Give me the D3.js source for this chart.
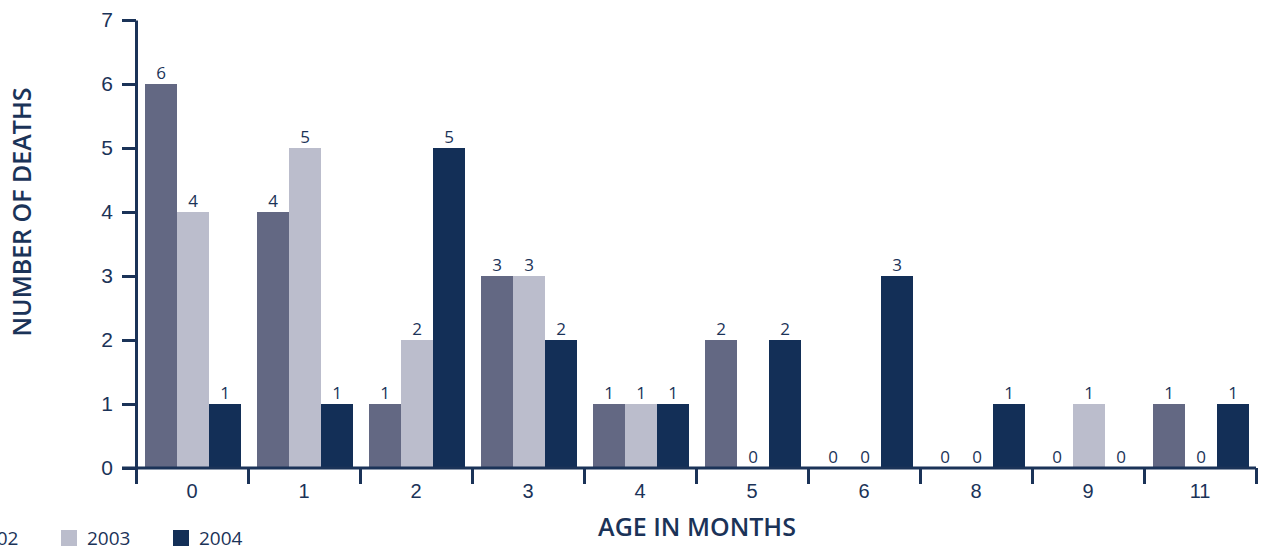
<!DOCTYPE html>
<html>
<head>
<meta charset="utf-8">
<script src="https://cdn.jsdelivr.net/npm/d3@7"></script>
<style>
  body { margin: 0; background: #fff; }
  svg { display: block; font-family: "Open Sans", sans-serif; }
  .axis path, .axis line { stroke: #1b3358; stroke-width: 3; }
  .axis text { fill: #1b3358; font-size: 20px; }
  .label { fill: #1b3358; font-weight: 600; font-size: 25px; }
  .val { fill: #1b3358; font-size: 17px; }
</style>
</head>
<body>
<div id="chart"></div>
<script>
// ages in months
const ages = ['0', '1', '2', '3', '4', '5', '6', '8', '9', '11'];
const years = ['2002', '2003', '2004'];
const deaths2002 = [6, 4, 1, 3, 1, 2, 0, 0, 0, 1];
const deaths2003 = [4, 5, 2, 3, 1, 0, 0, 0, 1, 0];
const deaths2004 = [1, 1, 5, 2, 1, 2, 3, 1, 0, 1];
const yTicks = [0, 1, 2, 3, 4, 5, 6, 7];
const colors = ['#636883', '#bbbdcc', '#132f57'];

const w = 1262;
const h = 548;
const padLeft = 136, padRight = 1256, padTop = 20, padBottom = 468;

const series = [deaths2002, deaths2003, deaths2004];
const data = [];
ages.forEach((a, i) => {
  years.forEach((y, j) => data.push({ age: a, year: y, value: series[j][i] }));
});

const xScale = d3.scaleBand().domain(ages).range([padLeft, padRight]);
const xInner = d3.scaleBand().domain(years).range([1, xScale.bandwidth() + 1]).paddingOuter(0.25);
const yScale = d3.scaleLinear().domain([0, 7]).range([padBottom, padTop]);
const color = d3.scaleOrdinal().domain(years).range(colors);

const svg = d3.select('#chart')
  .append('svg')
  .attr('width', w)
  .attr('height', h);

// bars
svg.selectAll('rect.bar')
  .data(data)
  .enter()
  .append('rect')
  .attr('class', 'bar')
  .attr('x', d => xScale(d.age) + xInner(d.year))
  .attr('width', xInner.bandwidth())
  .attr('y', d => yScale(d.value))
  .attr('height', d => padBottom - yScale(d.value))
  .attr('fill', d => color(d.year));

// value labels
svg.selectAll('text.val')
  .data(data)
  .enter()
  .append('text')
  .attr('class', 'val')
  .attr('text-anchor', 'middle')
  .attr('x', d => xScale(d.age) + xInner(d.year) + xInner.bandwidth() / 2)
  .attr('y', d => yScale(d.value) - 5)
  .text(d => d.value);

// y axis
const yAxis = d3.axisLeft(yScale).tickValues(yTicks).tickFormat(d3.format('d'))
  .tickSize(14).tickPadding(9).tickSizeOuter(0);
svg.append('g')
  .attr('class', 'axis')
  .attr('transform', `translate(${padLeft}, 0)`)
  .call(yAxis)
  .call(g => g.selectAll('text').style('font-size', '21px'));

// x axis: boundary ticks
const xEdges = d3.scaleLinear().domain([0, ages.length]).range([padLeft, padRight]);
svg.append('g')
  .attr('class', 'axis')
  .attr('transform', `translate(0, ${padBottom})`)
  .call(d3.axisBottom(xEdges).ticks(ages.length).tickSize(16).tickSizeOuter(0).tickFormat(''))
  .call(g => g.select('.domain').attr('d', `M${padLeft - 14},0H${padRight}`));

// x axis: category labels
svg.append('g')
  .attr('class', 'axis')
  .attr('transform', `translate(0, ${padBottom})`)
  .call(d3.axisBottom(xScale).tickSize(0).tickPadding(16))
  .call(g => g.select('.domain').remove());

// axis titles
svg.append('text')
  .attr('class', 'label')
  .attr('text-anchor', 'middle')
  .attr('x', 697)
  .attr('y', 536)
  .text('AGE IN MONTHS');

svg.append('text')
  .attr('class', 'label')
  .attr('text-anchor', 'middle')
  .attr('transform', 'rotate(-90)')
  .attr('x', -212)
  .attr('y', 31)
  .text('NUMBER OF DEATHS');

// legend
const legend = svg.selectAll('g.legend')
  .data(years)
  .enter()
  .append('g')
  .attr('class', 'legend')
  .attr('transform', (d, i) => `translate(${-51 + i * 112}, 530)`);

legend.append('rect')
  .attr('width', 16)
  .attr('height', 16)
  .attr('fill', d => color(d));

legend.append('text')
  .attr('x', 26)
  .attr('y', 15)
  .attr('fill', '#1b3358')
  .style('font-size', '19px')
  .text(d => d);
</script>
</body>
</html>
